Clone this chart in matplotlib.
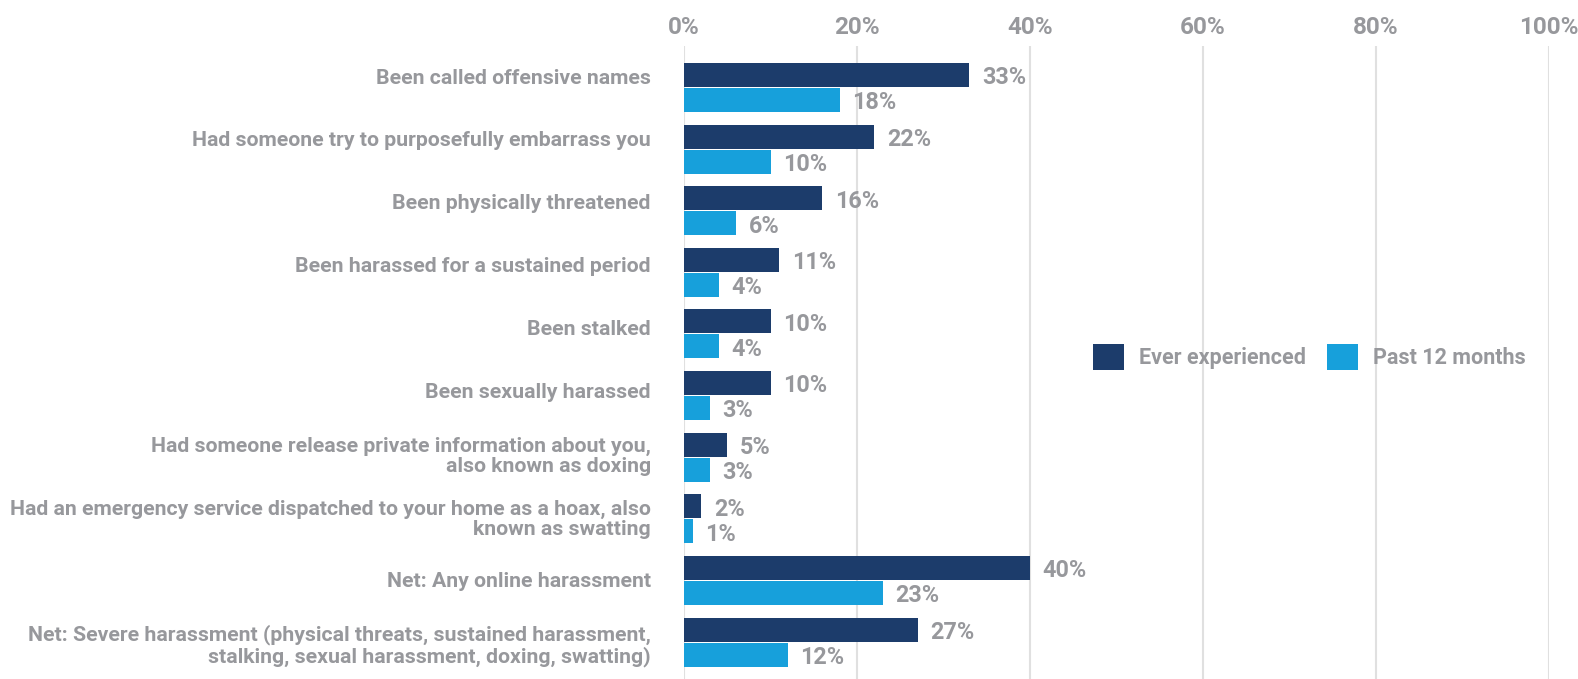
import matplotlib
matplotlib.use("Agg")
import matplotlib.pyplot as plt
from matplotlib.patches import Patch
import numpy as np

plt.rcParams['font.family'] = ['Roboto', 'DejaVu Sans']

categories = [
    "Been called offensive names",
    "Had someone try to purposefully embarrass you",
    "Been physically threatened",
    "Been harassed for a sustained period",
    "Been stalked",
    "Been sexually harassed",
    "Had someone release private information about you,\nalso known as doxing",
    "Had an emergency service dispatched to your home as a hoax, also\nknown as swatting",
    "Net: Any online harassment",
    "Net: Severe harassment (physical threats, sustained harassment,\nstalking, sexual harassment, doxing, swatting)",
]
ever_experienced = [33, 22, 16, 11, 10, 10, 5, 2, 40, 27]
past_12_months = [18, 10, 6, 4, 4, 3, 3, 1, 23, 12]
x_ticks = [0, 20, 40, 60, 80, 100]
series_names = ["Ever experienced", "Past 12 months"]

DARK = "#1c3c6b"
LIGHT = "#17a0db"
TEXT = "#97989c"
GRID = "#e0e0e0"

W, H = 1578, 679
fig = plt.figure(figsize=(W / 100, H / 100), dpi=100)
ax = fig.add_axes([684 / W, 0, (1549 - 684) / W, 633 / H])

y = np.arange(len(categories))
bh = 0.39
off = 0.203
b1 = ax.barh(y - off, ever_experienced, height=bh, color=DARK, zorder=2)
b2 = ax.barh(y + off, past_12_months, height=bh, color=LIGHT, zorder=2)

ax.set_xlim(0, 100)
ax.set_ylim(9.6, -0.674)

for cont, vals in ((b1, ever_experienced), (b2, past_12_months)):
    for rect, v in zip(cont, vals):
        ax.annotate(f"{v}%", xy=(rect.get_width(), rect.get_y() + rect.get_height() / 2),
                    xytext=(9, -2), textcoords='offset points', ha='left', va='center',
                    fontsize=16.8, fontweight='bold', color=TEXT)

ax.xaxis.tick_top()
ax.set_xticks(x_ticks)
ax.set_xticklabels([f"{t}%" for t in x_ticks], fontsize=17.5, fontweight='bold', color=TEXT)
ax.tick_params(axis='x', length=0, pad=5)
ax.xaxis.grid(True, color=GRID, linewidth=1.5, zorder=0)
ax.set_axisbelow(True)
ax.set_yticks([])
for s in ax.spines.values():
    s.set_visible(False)

# category labels
ax2 = ax.twinx()
ax2.set_ylim(9.58, -0.477)
ax2.yaxis.tick_left()
ax2.set_yticks(y)
ax2.set_yticklabels(categories, fontsize=15.3, fontweight='bold', color=TEXT,
                    linespacing=1.1)
ax2.tick_params(axis='y', length=0, pad=24)
for s in ax2.spines.values():
    s.set_visible(False)

handles = [Patch(facecolor=DARK, edgecolor='none', label=series_names[0]),
           Patch(facecolor=LIGHT, edgecolor='none', label=series_names[1])]
fig.legend(handles=handles, ncol=2, loc='center left',
           bbox_to_anchor=(1093 / W, 1 - 357 / H), frameon=False,
           borderpad=0, borderaxespad=0, handlelength=1.45, handleheight=1.45,
           handletextpad=0.7, columnspacing=0.95,
           prop={'family': 'Roboto', 'weight': 'bold', 'size': 15.5},
           labelcolor=TEXT)

fig.savefig("out.png", dpi=100)
